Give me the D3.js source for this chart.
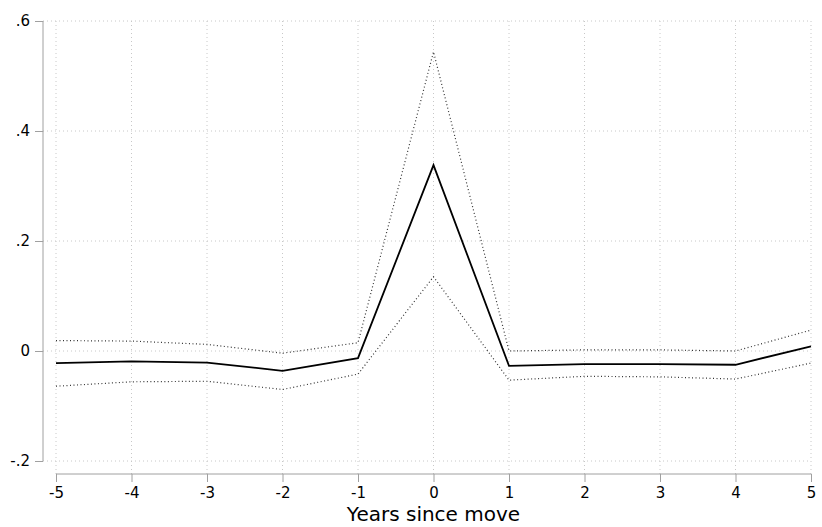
<!DOCTYPE html>
<html><head><meta charset="utf-8">
<script src="https://cdn.jsdelivr.net/npm/d3@7"></script>
<style>body{margin:0;background:#fff}svg{display:block}text{font-family:"DejaVu Sans",sans-serif;fill:#000}</style>
</head><body><svg id="c" width="822" height="527"></svg>
<script>
const years = [-5,-4,-3,-2,-1,0,1,2,3,4,5];
const estimate = [-0.022,-0.019,-0.021,-0.036,-0.013,0.338,-0.027,-0.024,-0.024,-0.025,0.0085];
const upperCI = [0.019,0.018,0.012,-0.004,0.015,0.544,0.000,0.002,0.002,0.000,0.038];
const lowerCI = [-0.064,-0.056,-0.055,-0.070,-0.042,0.135,-0.053,-0.046,-0.047,-0.051,-0.022];
const yTicks = [-0.2,0,0.2,0.4,0.6];
const yTickLabels = ["-.2","0",".2",".4",".6"];
const xTickLabels = ["-5","-4","-3","-2","-1","0","1","2","3","4","5"];
const xLabel = "Years since move";

const svg = d3.select("#c");
const x = d3.scaleLinear().domain([-5,5]).range([56,811]);
const y = d3.scaleLinear().domain([-0.2,0.6]).range([461,21]);

// grid
svg.append("g").selectAll("line").data(years).join("line")
  .attr("x1",d=>x(d)).attr("x2",d=>x(d)).attr("y1",21).attr("y2",474)
  .attr("stroke","#c8c8c8").attr("stroke-dasharray","1,3");
svg.append("g").selectAll("line").data(yTicks).join("line")
  .attr("x1",43).attr("x2",811).attr("y1",d=>y(d)).attr("y2",d=>y(d))
  .attr("stroke","#c8c8c8").attr("stroke-dasharray","1,3");

// axes
const ya = svg.append("g").attr("transform","translate(43,0)")
  .call(d3.axisLeft(y).tickValues(yTicks).tickFormat((d,i)=>yTickLabels[i]).tickSize(8).tickPadding(5));
ya.select(".domain").attr("stroke","#a0a0a0").attr("d","M0,"+y(-0.2)+"V"+y(0.6));
ya.selectAll(".tick line").attr("stroke","#a0a0a0");
ya.selectAll("text").attr("font-size",15).attr("font-family","DejaVu Sans");

const xa = svg.append("g").attr("transform","translate(0,474)")
  .call(d3.axisBottom(x).tickValues(years).tickFormat((d,i)=>xTickLabels[i]).tickSize(8).tickPadding(5));
xa.select(".domain").attr("stroke","#a0a0a0").attr("d","M"+x(-5)+",0H"+x(5));
xa.selectAll(".tick line").attr("stroke","#a0a0a0");
xa.selectAll("text").attr("font-size",15).attr("font-family","DejaVu Sans");

svg.append("text").attr("x",(x(-5)+x(5))/2).attr("y",521).attr("text-anchor","middle")
  .attr("font-size",20).text(xLabel);

const line = arr => d3.line().x((d,i)=>x(years[i])).y(d=>y(d))(arr);
svg.append("path").attr("d",line(upperCI)).attr("fill","none").attr("stroke","#333").attr("stroke-width",1.2).attr("stroke-dasharray","1,2.5");
svg.append("path").attr("d",line(lowerCI)).attr("fill","none").attr("stroke","#333").attr("stroke-width",1.2).attr("stroke-dasharray","1,2.5");
svg.append("path").attr("d",line(estimate)).attr("fill","none").attr("stroke","#000").attr("stroke-width",1.8);
</script></body></html>
